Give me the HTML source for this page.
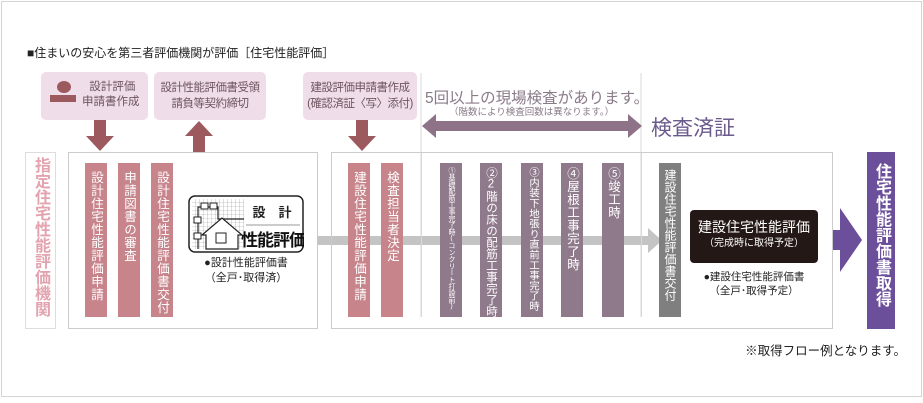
<!DOCTYPE html>
<html><head><meta charset="utf-8"><style>
*{margin:0;padding:0;box-sizing:border-box}
body{width:923px;height:403px;background:#fff;position:relative;overflow:hidden;font-family:"Liberation Sans","Noto Sans CJK JP",sans-serif;}
.a{position:absolute}
.v{position:absolute;writing-mode:vertical-rl;text-orientation:upright;color:#fff;font-size:12.5px;line-height:22px;text-align:left;padding-top:8px;letter-spacing:0.5px;overflow:hidden}
.pk{background:#c7848b}
.pu{background:#8f7a8c}
.tb{position:absolute;background:#efdde9;border-radius:5px;color:#6e5560;font-size:11.5px;letter-spacing:-0.5px;text-align:center;line-height:16px;white-space:nowrap}
</style></head><body>
<div class="a" style="left:1px;top:1px;width:921px;height:396px;border:1px solid #d4d4d4"></div>
<div class="a" style="left:27px;top:44px;font-size:12px;color:#222">■住まいの安心を第三者評価機関が評価［住宅性能評価］</div>

<div class="tb" style="left:41px;top:72px;width:107px;height:48px;"></div>
<div class="a" style="left:57px;top:81px;width:14px;height:12px;border-radius:50%;background:#9c5a5f"></div>
<div class="a" style="left:50px;top:95px;width:26px;height:7px;background:#9c5a5f"></div>
<div class="a" style="left:82px;top:80px;font-size:11.5px;color:#6e5560;line-height:15px;text-align:center">&nbsp;設計評価<br>申請書作成</div>
<div class="tb" style="left:154px;top:72px;width:112px;height:48px;padding-top:8px">設計性能評価書受領<br>請負等契約締切</div>
<div class="tb" style="left:303px;top:72px;width:114px;height:48px;padding-top:8px">建設評価申請書作成<br>(確認済証〈写〉添付)</div>

<svg class="a" style="left:0;top:0" width="923" height="403">
<path d="M94 120h12v16h8l-14 15l-14-15h8z" fill="#9c5a5f"/>
<path d="M193 152h12v-16h8l-14-15l-14 15h8z" fill="#9c5a5f"/>
<path d="M356 120h12v16h8l-14 15l-14-15h8z" fill="#9c5a5f"/>
<line x1="421" y1="73" x2="421" y2="317" stroke="#d8d8d8"/>
<line x1="641" y1="73" x2="641" y2="317" stroke="#d8d8d8"/>
<path d="M422 126l14-12v7h192v-7l14 12l-14 12v-7h-192v7z" fill="#8d7288"/>
<path d="M832 230h8v-22l22 32l-22 32v-22h-8z" fill="#6b4f9a"/>
</svg>

<div class="a" style="left:25px;top:152px;width:31px;height:177px;border:1px solid #ddd"></div>
<div class="a" style="left:30px;top:157px;writing-mode:vertical-rl;text-orientation:upright;font-size:16px;font-weight:bold;color:#e3a3ae;line-height:20px">指定住宅性能評価機関</div>

<div class="a" style="left:68px;top:152px;width:250px;height:177px;border:1px solid #ccc;background:#fff"></div>
<div class="a" style="left:317px;top:236px;width:15px;height:9px;background:#c4c4c4"></div>
<div class="a" style="left:331px;top:152px;width:502px;height:177px;border:1px solid #ccc"></div>
<div class="a" style="left:332px;top:236px;width:318px;height:9px;background:#c4c4c4"></div>
<div class="a" style="left:421px;top:153px;width:1px;height:164px;background:#d8d8d8"></div>
<div class="a" style="left:641px;top:153px;width:1px;height:164px;background:#d8d8d8"></div>
<svg class="a" style="left:648px;top:228px" width="14" height="25"><path d="M0 0l14 12.5l-14 12.5z" fill="#c4c4c4"/></svg>

<div class="v pk" style="left:85px;top:163px;width:22px;height:154px">設計住宅性能評価申請</div>
<div class="v pk" style="left:118px;top:163px;width:22px;height:154px">申請図書の審査</div>
<div class="v pk" style="left:151px;top:163px;width:22px;height:154px">設計住宅性能評価書交付</div>

<svg class="a" style="left:188px;top:195px" width="116" height="58">
<defs><pattern id="g" width="4" height="4" patternUnits="userSpaceOnUse"><path d="M4 0V4H0" fill="none" stroke="#999" stroke-width="0.6"/></pattern></defs>
<rect x="1" y="1" width="114" height="56" rx="6" fill="#fff" stroke="#222" stroke-width="1.5"/>
<rect x="4" y="4" width="52" height="50" fill="url(#g)"/>
<rect x="56" y="4" width="56" height="50" fill="#fff"/>
<path d="M10 54V12h20v12h26" fill="none" stroke="#222" stroke-width="1.2"/>
<rect x="13" y="8" width="7" height="6" fill="#fff" stroke="#222"/><rect x="22" y="8" width="7" height="6" fill="#fff" stroke="#222"/>
<rect x="6" y="22" width="7" height="6" fill="#fff" stroke="#222"/><rect x="6" y="38" width="7" height="6" fill="#fff" stroke="#222"/>
<path d="M14 40l20-17l20 17h-4v14h-32v-14z" fill="#fff" stroke="#222" stroke-width="1.2"/>
<rect x="28" y="38" width="10" height="10" fill="#fff" stroke="#222"/>
<line x1="58" y1="30" x2="112" y2="30" stroke="#999"/>
<text x="84" y="22" font-size="13" font-weight="bold" text-anchor="middle" fill="#222" font-family="Noto Sans CJK JP">設　計</text>
<text x="85" y="51" font-size="17" font-weight="bold" text-anchor="middle" fill="#111" font-family="Noto Sans CJK JP" letter-spacing="-1">性能評価</text>
</svg>
<div class="a" style="left:190px;top:256px;width:112px;text-align:center;font-size:11px;line-height:15px;color:#222">●設計性能評価書<br>（全戸･取得済）</div>

<div class="v pk" style="left:348px;top:163px;width:22px;height:154px">建設住宅性能評価申請</div>
<div class="v pk" style="left:381px;top:163px;width:22px;height:154px">検査担当者決定</div>
<div class="v pu" style="left:440px;top:163px;width:22px;height:154px;font-size:7px;letter-spacing:-0.2px;line-height:22px;padding-top:4px">①基礎配筋工事完了時(コンクリート打設前)</div>
<div class="v pu" style="left:480px;top:163px;width:22px;height:154px;padding-top:4px;letter-spacing:0;font-size:11.5px">②2階の床の配筋工事完了時</div>
<div class="v pu" style="left:521px;top:163px;width:22px;height:154px;padding-top:4px;letter-spacing:0;font-size:10.3px">③内装下地張り直前工事完了時</div>
<div class="v pu" style="left:561px;top:163px;width:22px;height:154px;padding-top:4px">④屋根工事完了時</div>
<div class="v pu" style="left:602px;top:163px;width:22px;height:154px;padding-top:4px">⑤竣工時</div>
<div class="v" style="left:659px;top:163px;width:22px;height:154px;background:#7f7f7f;padding-top:6px;letter-spacing:0;font-size:12px">建設住宅性能評価書交付</div>

<div class="a" style="left:425px;top:86px;font-size:15.5px;color:#8a7b88;white-space:nowrap">5回以上の現場検査があります。</div>
<div class="a" style="left:449px;top:104px;font-size:9.5px;color:#8a7b88;white-space:nowrap">（階数により検査回数は異なります。）</div>
<div class="a" style="left:651px;top:112px;font-size:21px;color:#6b5a8c;white-space:nowrap">検査済証</div>

<div class="a" style="left:690px;top:210px;width:128px;height:53px;background:#231815;border-radius:4px;color:#fff;text-align:center">
<div style="font-size:14px;margin-top:8px;line-height:18px">建設住宅性能評価</div>
<div style="font-size:10px;line-height:16px">（完成時に取得予定）</div></div>
<div class="a" style="left:688px;top:270px;width:132px;text-align:center;font-size:10.5px;line-height:14px;color:#222">●建設住宅性能評価書<br>（全戸･取得予定）</div>

<div class="a" style="left:867px;top:152px;width:28px;height:177px;background:#6b4f9a"></div>
<div class="a" style="left:871px;top:163px;writing-mode:vertical-rl;text-orientation:upright;color:#fff;font-weight:bold;font-size:16px;line-height:20px">住宅性能評価書取得</div>

<div class="a" style="right:17px;top:340px;font-size:12.5px;color:#222;white-space:nowrap">※取得フロー例となります。</div>
</body></html>
